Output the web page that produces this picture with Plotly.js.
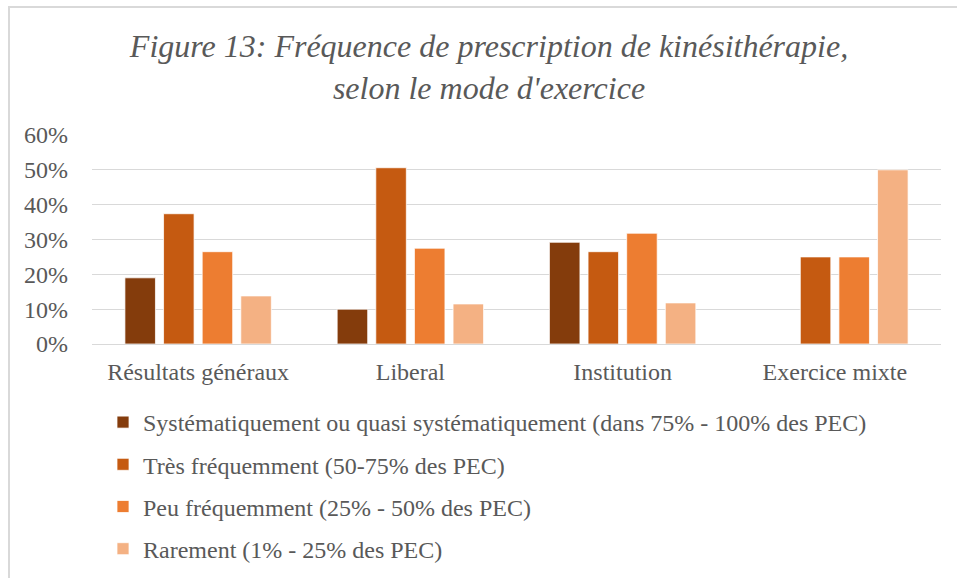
<!DOCTYPE html>
<html>
<head>
<meta charset="utf-8">
<script src="https://cdn.plot.ly/plotly-3.0.1.min.js"></script>
<style>
  html, body { margin: 0; padding: 0; background: #ffffff; }
  #frame { position: absolute; left: 8px; top: 6px; width: 960px; height: 580px;
           border-left: 2px solid #d9d9d9; border-top: 2px solid #d9d9d9; box-sizing: border-box; }
  #chart { position: absolute; left: 0; top: 0; width: 957px; height: 578px; }
</style>
</head>
<body>
<div id="frame"></div>
<div id="chart"></div>
<script>
const categories = ["Résultats généraux", "Liberal", "Institution", "Exercice mixte"];
const seriesNames = [
  "Systématiquement ou quasi systématiquement (dans 75% - 100% des PEC)",
  "Très fréquemment (50-75% des PEC)",
  "Peu fréquemment (25% - 50% des PEC)",
  "Rarement (1% - 25% des PEC)"
];
const systematique = [0.19, 0.10, 0.292, 0.0];
const tresFrequent = [0.374, 0.506, 0.265, 0.25];
const peuFrequent = [0.265, 0.275, 0.318, 0.25];
const rarement = [0.138, 0.115, 0.118, 0.50];
const colors = ["#843C0C", "#C55A11", "#ED7D31", "#F4B183"];
const yTickVals = [0, 0.1, 0.2, 0.3, 0.4, 0.5, 0.6];
const yTickText = ["0%", "10%", "20%", "30%", "40%", "50%", "60%"];

const allSeries = [systematique, tresFrequent, peuFrequent, rarement];
const font = "'Liberation Serif', 'Times New Roman', serif";
const grey = "#595959";

const traces = allSeries.map((vals, i) => ({
  type: "bar",
  name: seriesNames[i],
  x: categories,
  y: vals,
  legendgroup: "g" + i,
  marker: { color: colors[i], line: { color: "#ffffff", width: 0.75 } },
  hoverinfo: "x+y+name"
}));

const layout = {
  width: 957, height: 578,
  paper_bgcolor: "rgba(0,0,0,0)",
  plot_bgcolor: "rgba(0,0,0,0)",
  margin: { l: 92, r: 16, t: 135, b: 234, pad: 0, autoexpand: false },
  barmode: "group",
  bargap: 0.272,
  bargroupgap: 0.21,
  font: { family: font, color: grey, size: 24 },
  title: {
    text: "<i>Figure 13: Fréquence de prescription de kinésithérapie,<br>selon le mode d'exercice</i>",
    font: { family: font, size: 32, color: grey },
    x: 489 / 957, xref: "container", xanchor: "center",
    y: 1 - 57 / 578, yref: "container", yanchor: "top"
  },
  xaxis: {
    type: "category",
    showgrid: false, showline: false, zeroline: false,
    ticks: "", ticklabelstandoff: 11,
    tickfont: { family: font, size: 24, color: grey }
  },
  yaxis: {
    range: [0, 0.6],
    tickvals: yTickVals, ticktext: yTickText,
    showgrid: true, gridcolor: "#d9d9d9", gridwidth: 1,
    zeroline: true, zerolinecolor: "#d9d9d9", zerolinewidth: 1,
    showline: false, ticks: "", ticklabelstandoff: 23,
    tickfont: { family: font, size: 24, color: grey }
  },
  showlegend: true,
  legend: {
    orientation: "v",
    x: (103 - 92) / 849, xanchor: "left",
    y: (344 - 400) / 209, yanchor: "top",
    traceorder: "grouped",
    tracegroupgap: 8,
    font: { family: font, size: 24, color: grey },
    bgcolor: "rgba(0,0,0,0)",
    itemwidth: 30
  }
};

Plotly.newPlot("chart", traces, layout, { displayModeBar: false, responsive: false });
</script>
</body>
</html>
